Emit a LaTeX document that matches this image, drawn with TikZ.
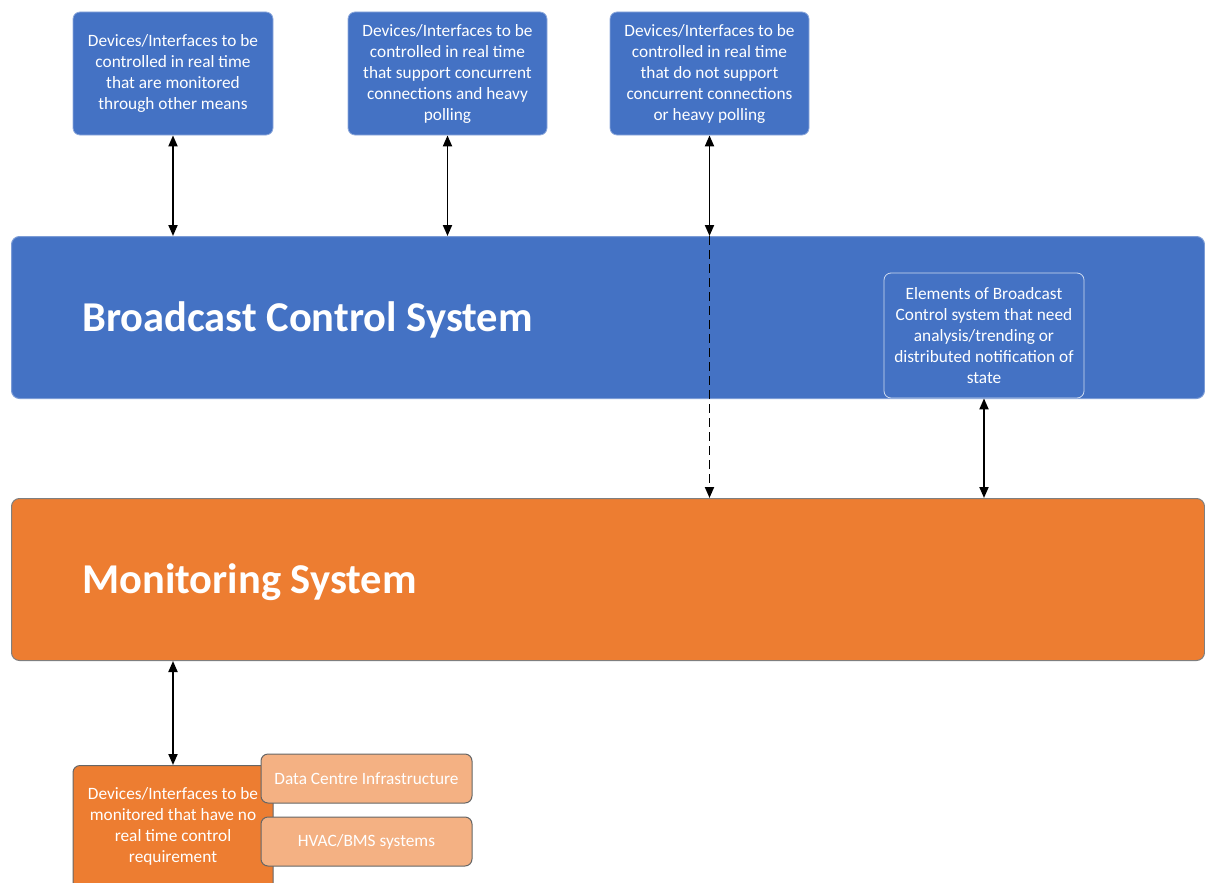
\documentclass[tikz,border=0pt]{standalone}
\usepackage{fontspec}
\setmainfont{Carlito}
\usetikzlibrary{arrows.meta}
\definecolor{bcsblue}{HTML}{4472C4}
\definecolor{monorange}{HTML}{ED7D31}
\definecolor{lightorange}{HTML}{F4B183}
\definecolor{edgegray}{HTML}{7F7F7F}
\tikzset{
  boxfont/.style={font=\fontsize{17.3}{21}\selectfont},
  bluebox/.style={draw=bcsblue!60!white, fill=bcsblue, rounded corners=7pt, line width=0.8pt,
    text=white, align=center, boxfont, inner sep=0pt},
  bar/.style={rounded corners=8pt, line width=1pt, inner sep=0pt},
  title/.style={text=white, font=\fontsize{42.5}{48}\selectfont\bfseries, anchor=west, inner sep=0pt},
  orangebox/.style={draw=edgegray!80!black, fill=monorange, rounded corners=7pt, line width=1pt,
    text=white, align=center, boxfont, inner sep=0pt},
  subbox/.style={draw=edgegray!80!black, fill=lightorange, rounded corners=7pt, line width=1pt,
    text=white, align=center, boxfont, inner sep=0pt},
  link/.style={line width=1.9pt, {Triangle[length=11pt,width=9pt]}-{Triangle[length=11pt,width=9pt]}},
  dashlink/.style={line width=1.9pt, dash pattern=on 9pt off 5pt, -{Triangle[length=11pt,width=9pt]}},
}
\begin{document}
\begin{tikzpicture}[x=1pt,y=-1pt]
\useasboundingbox (0,0) rectangle (1205,883);

% main system bars
\node[bar, draw=bcsblue!70!white, fill=bcsblue, minimum width=1193pt, minimum height=162pt, anchor=north west] (bcs) at (11,236) {};
\node[bar, draw=edgegray, fill=monorange, minimum width=1193pt, minimum height=162pt, anchor=north west] (mon) at (11,498) {};
\node[title] (bcstitle) at (82,320) {Broadcast Control System};
\node[title] (montitle) at (82,582) {Monitoring System};

% controlled devices
\node[bluebox, minimum width=200pt, minimum height=123pt] (dev1) at (173,73.5)
  {Devices/Interfaces to be\\controlled in real time\\that are monitored\\through other means};
\node[bluebox, minimum width=199pt, minimum height=123pt] (dev2) at (447.5,73.5)
  {Devices/Interfaces to be\\controlled in real time\\that support concurrent\\connections and heavy\\polling};
\node[bluebox, minimum width=199pt, minimum height=123pt] (dev3) at (709.5,73.5)
  {Devices/Interfaces to be\\controlled in real time\\that do not support\\concurrent connections\\or heavy polling};

% element inside the broadcast control system
\node[bluebox, draw=white!75!bcsblue, minimum width=200pt, minimum height=125pt] (elem) at (984,335.5)
  {Elements of Broadcast\\Control system that need\\analysis/trending or\\distributed notification of\\state};

% monitored-only devices
\node[orangebox, minimum width=200pt, minimum height=130pt, anchor=north] (mdev) at (173,765) {};
\node[text=white, align=center, boxfont] (mdevtext) at (173,826)
  {Devices/Interfaces to be\\monitored that have no\\real time control\\requirement};
\node[subbox, minimum width=211pt, minimum height=49pt] (dci) at (366.5,778.5) {Data Centre Infrastructure};
\node[subbox, minimum width=211pt, minimum height=49pt] (hvac) at (366.5,841.5) {HVAC/BMS systems};

% connectors
\draw[link] (dev1.south) -- (dev1.south |- bcs.north);
\draw[link] (dev2.south) -- (dev2.south |- bcs.north);
\draw[link] (dev3.south) -- (dev3.south |- bcs.north);
\draw[dashlink] (dev3.south |- bcs.north) -- (dev3.south |- mon.north);
\draw[link] (elem.south) -- (elem.south |- mon.north);
\draw[link] (mdev.north |- mon.south) -- (mdev.north);
\end{tikzpicture}
\end{document}
